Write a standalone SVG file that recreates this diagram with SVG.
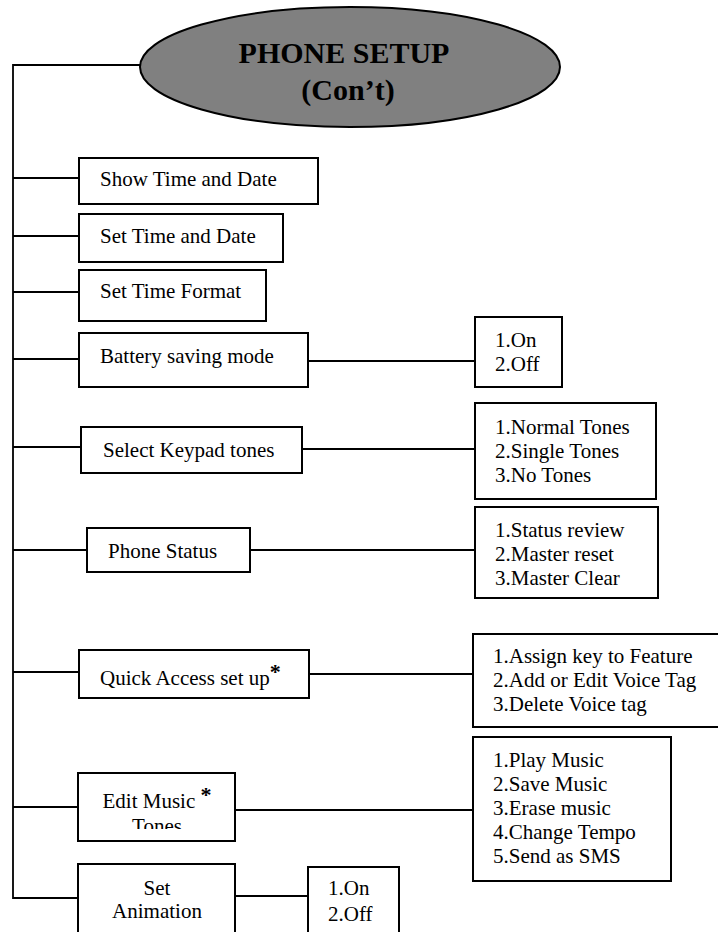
<svg xmlns="http://www.w3.org/2000/svg" width="718" height="932" viewBox="0 0 718 932">
  <style>
    .box { fill: #ffffff; stroke: #000000; stroke-width: 2; }
    .wire { fill: none; stroke: #000000; stroke-width: 1.8; }
    .lbl { font-family: "Liberation Serif", "Times New Roman", serif; font-size: 21px; fill: #000000; }
    .mid { text-anchor: middle; }
    .title { font-family: "Liberation Serif", "Times New Roman", serif; font-size: 30px; font-weight: bold; fill: #000000; text-anchor: middle; }
    .star { font-weight: bold; font-size: 22px; }
  </style>
  <defs>
    <clipPath id="musicClip">
      <rect x="78" y="773" width="157" height="56"/>
    </clipPath>
  </defs>
  <rect width="718" height="932" fill="#ffffff"/>

  <!-- connectors -->
  <g id="connectors">
    <polyline class="wire" points="140,65 13,65 13,898 78,898"/>
    <line class="wire" x1="13" y1="178" x2="79" y2="178"/>
    <line class="wire" x1="13" y1="236" x2="79" y2="236"/>
    <line class="wire" x1="13" y1="292" x2="79" y2="292"/>
    <line class="wire" x1="13" y1="359" x2="79" y2="359"/>
    <line class="wire" x1="308" y1="361" x2="475" y2="361"/>
    <line class="wire" x1="13" y1="447" x2="81" y2="447"/>
    <line class="wire" x1="302" y1="449" x2="475" y2="449"/>
    <line class="wire" x1="13" y1="550" x2="87" y2="550"/>
    <line class="wire" x1="250" y1="550" x2="475" y2="550"/>
    <line class="wire" x1="13" y1="672" x2="79" y2="672"/>
    <line class="wire" x1="309" y1="674" x2="473" y2="674"/>
    <line class="wire" x1="13" y1="807" x2="78" y2="807"/>
    <line class="wire" x1="235" y1="810" x2="473" y2="810"/>
    <line class="wire" x1="235" y1="896" x2="308" y2="896"/>
  </g>

  <!-- root -->
  <g id="phone-setup">
    <ellipse cx="350" cy="67" rx="210" ry="60" fill="#808080" stroke="#000000" stroke-width="2"/>
    <text class="title" x="344" y="63">PHONE SETUP</text>
    <text class="title" x="348" y="100">(Con’t)</text>
  </g>

  <g id="show-time-date">
    <rect class="box" x="79" y="158" width="239" height="46"/>
    <text class="lbl" x="100" y="186">Show Time and Date</text>
  </g>

  <g id="set-time-date">
    <rect class="box" x="79" y="214" width="204" height="48"/>
    <text class="lbl" x="100" y="243">Set Time and Date</text>
  </g>

  <g id="set-time-format">
    <rect class="box" x="79" y="270" width="187" height="51"/>
    <text class="lbl" x="100" y="298">Set Time Format</text>
  </g>

  <g id="battery-saving">
    <rect class="box" x="79" y="333" width="229" height="54"/>
    <text class="lbl" x="100" y="363">Battery saving mode</text>
  </g>
  <g id="battery-options">
    <rect class="box" x="475" y="317" width="87" height="70"/>
    <text class="lbl" x="495" y="347">1.On</text>
    <text class="lbl" x="495" y="371">2.Off</text>
  </g>

  <g id="keypad-tones">
    <rect class="box" x="81" y="427" width="221" height="46"/>
    <text class="lbl" x="103" y="457">Select Keypad tones</text>
  </g>
  <g id="keypad-options">
    <rect class="box" x="475" y="403" width="181" height="96"/>
    <text class="lbl" x="495" y="434">1.Normal Tones</text>
    <text class="lbl" x="495" y="458">2.Single Tones</text>
    <text class="lbl" x="495" y="482">3.No Tones</text>
  </g>

  <g id="phone-status">
    <rect class="box" x="87" y="528" width="163" height="44"/>
    <text class="lbl" x="108" y="558">Phone Status</text>
  </g>
  <g id="status-options">
    <rect class="box" x="475" y="507" width="183" height="91"/>
    <text class="lbl" x="495" y="537">1.Status review</text>
    <text class="lbl" x="495" y="561">2.Master reset</text>
    <text class="lbl" x="495" y="585">3.Master Clear</text>
  </g>

  <g id="quick-access">
    <rect class="box" x="79" y="650" width="230" height="48"/>
    <text class="lbl" x="100" y="685">Quick Access set up<tspan class="star" dy="-6">*</tspan></text>
  </g>
  <g id="quick-options">
    <rect class="box" x="473" y="634" width="260" height="93"/>
    <text class="lbl" x="493" y="663">1.Assign key to Feature</text>
    <text class="lbl" x="493" y="687">2.Add or Edit Voice Tag</text>
    <text class="lbl" x="493" y="711">3.Delete Voice tag</text>
  </g>

  <g id="edit-music">
    <rect class="box" x="78" y="773" width="157" height="68"/>
    <g clip-path="url(#musicClip)">
      <text class="lbl mid" x="157" y="808">Edit Music <tspan class="star" dy="-6">*</tspan></text>
      <text class="lbl mid" x="157" y="833">Tones</text>
    </g>
  </g>
  <g id="music-options">
    <rect class="box" x="473" y="737" width="198" height="144"/>
    <text class="lbl" x="493" y="767">1.Play Music</text>
    <text class="lbl" x="493" y="791">2.Save Music</text>
    <text class="lbl" x="493" y="815">3.Erase music</text>
    <text class="lbl" x="493" y="839">4.Change Tempo</text>
    <text class="lbl" x="493" y="863">5.Send as SMS</text>
  </g>

  <g id="set-animation">
    <rect class="box" x="78" y="864" width="157" height="80"/>
    <text class="lbl mid" x="157" y="895">Set</text>
    <text class="lbl mid" x="157" y="918">Animation</text>
  </g>
  <g id="animation-options">
    <rect class="box" x="308" y="867" width="91" height="80"/>
    <text class="lbl" x="328" y="895">1.On</text>
    <text class="lbl" x="328" y="921">2.Off</text>
  </g>
</svg>
